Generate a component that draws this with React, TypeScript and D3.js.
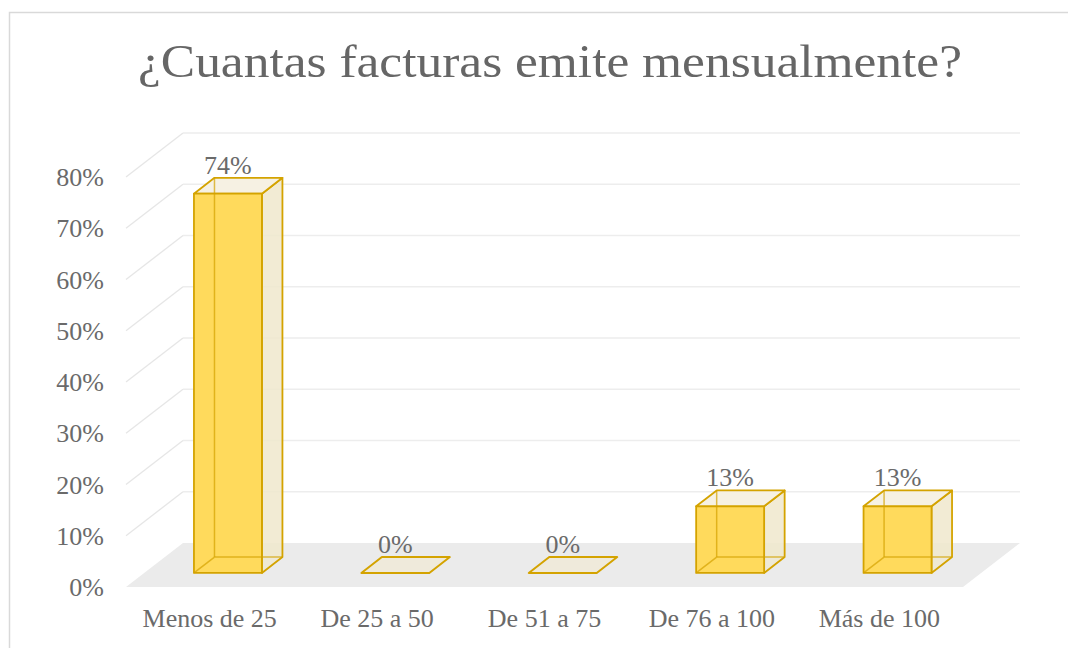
import React from "react";
import * as d3 from "d3";

const title = "¿Cuantas facturas emite mensualmente?";
const categories = ["Menos de 25", "De 25 a 50", "De 51 a 75", "De 76 a 100", "Más de 100"];
const values = [0.74, 0, 0, 0.13, 0.13];
const valueLabels = ["74%", "0%", "0%", "13%", "13%"];
const yTicks = [0, 0.1, 0.2, 0.3, 0.4, 0.5, 0.6, 0.7, 0.8];

const W = 1068;
const H = 648;
const DX = 57;
const DY = -44;
const D0 = 0.32;
const D1 = 0.68;
const FONT = "'Liberation Serif', 'Times New Roman', serif";
const TEXT = "#6a6a6a";
const GOLD = "#D4A300";

export default function App() {
  const x = d3.scaleBand<string>().domain(categories).range([126, 963]).padding(0);
  const y = d3.scaleLinear().domain([0, 0.8]).range([587, 177]);
  const fmt = d3.format(".0%");
  const proj = (px: number, py: number, d: number): [number, number] => [px + d * DX, py + d * DY];
  const poly = (pts: [number, number][]) => pts.map((p) => p.join(",")).join(" ");
  const x0 = x.range()[0];
  const x1 = x.range()[1];

  const floor = [proj(x0, y(0), 0), proj(x1, y(0), 0), proj(x1, y(0), 1), proj(x0, y(0), 1)];

  return (
    <svg width={W} height={H} style={{ position: "absolute", left: 0, top: 0, background: "#fff" }}>
      <rect x={9.5} y={12.5} width={1100} height={700} fill="#fff" stroke="#D9D9D9" strokeWidth={1.5} />
      <text x={550} y={77} textAnchor="middle" fontFamily={FONT} fontSize={46} fill="#666666" textLength={824} lengthAdjust="spacingAndGlyphs">
        {title}
      </text>
      {/* floor */}
      <polygon points={poly(floor)} fill="#EBEBEB" />
      {/* back wall gridlines + side wall lines */}
      {yTicks.filter((t) => t > 0).map((t) => {
        const a = proj(x0, y(t), 1);
        const b = proj(x1, y(t), 1);
        return (
          <g key={t}>
            <line x1={x0} y1={y(t)} x2={a[0]} y2={a[1]} stroke="#E6E6E6" strokeWidth={1.3} />
            <line x1={a[0]} y1={a[1]} x2={b[0]} y2={b[1]} stroke="#EDEDED" strokeWidth={1.3} />
          </g>
        );
      })}
      {/* y labels */}
      {yTicks.map((t) => (
        <text key={t} x={104} y={y(t)} dy="0.35em" textAnchor="end" fontFamily={FONT} fontSize={26} fill={TEXT}>
          {fmt(t)}
        </text>
      ))}
      {/* category labels */}
      {categories.map((c) => (
        <text key={c} x={(x(c) as number) + x.bandwidth() / 2} y={627} textAnchor="middle" fontFamily={FONT} fontSize={26} fill={TEXT}>
          {c}
        </text>
      ))}
      {/* bars */}
      {categories.map((c, i) => {
        const v = values[i];
        const bw = x.bandwidth();
        const hw = bw * 0.203;
        const cx = (x(c) as number) + bw / 2;
        const L = cx - hw;
        const R = cx + hw;
        const yb = y(0);
        const yt = y(v);
        const fBL = proj(L, yb, D0), fBR = proj(R, yb, D0), fTL = proj(L, yt, D0), fTR = proj(R, yt, D0);
        const bBL = proj(L, yb, D1), bBR = proj(R, yb, D1), bTL = proj(L, yt, D1), bTR = proj(R, yt, D1);
        const labelX = fTL[0] + (fTR[0] - fTL[0]) / 2;
        const labelY = bTL[1] - 4;
        if (v === 0) {
          return (
            <g key={c}>
              <polygon points={poly([fBL, fBR, bBR, bBL])} fill="#EFEADB" stroke={GOLD} strokeWidth={2} strokeLinejoin="round" />
              <text x={labelX} y={labelY} textAnchor="middle" fontFamily={FONT} fontSize={26} fill={TEXT}>{valueLabels[i]}</text>
            </g>
          );
        }
        return (
          <g key={c}>
            <polygon points={poly([bBL, bBR, bTR, bTL])} fill="rgba(240,232,205,0.55)" />
            <polygon points={poly([fBR, bBR, bTR, fTR])} fill="rgba(240,232,205,0.7)" stroke={GOLD} strokeWidth={1.8} strokeLinejoin="round" />
            <polygon points={poly([fTL, fTR, bTR, bTL])} fill="#F6F1E3" stroke={GOLD} strokeWidth={1.8} strokeLinejoin="round" />
            <polygon points={poly([fBL, fBR, fTR, fTL])} fill="#FFDA5C" stroke={GOLD} strokeWidth={1.8} strokeLinejoin="round" />
            {/* hidden edges seen through the front face */}
            <g stroke={GOLD} strokeWidth={1.5} strokeOpacity={0.7}>
              <line x1={bBL[0]} y1={bBL[1]} x2={bBR[0]} y2={bBR[1]} />
              <line x1={bBL[0]} y1={bBL[1]} x2={bTL[0]} y2={bTL[1]} />
              <line x1={fBL[0]} y1={fBL[1]} x2={bBL[0]} y2={bBL[1]} />
            </g>
            <text x={labelX} y={labelY} textAnchor="middle" fontFamily={FONT} fontSize={26} fill={TEXT}>{valueLabels[i]}</text>
          </g>
        );
      })}
    </svg>
  );
}
